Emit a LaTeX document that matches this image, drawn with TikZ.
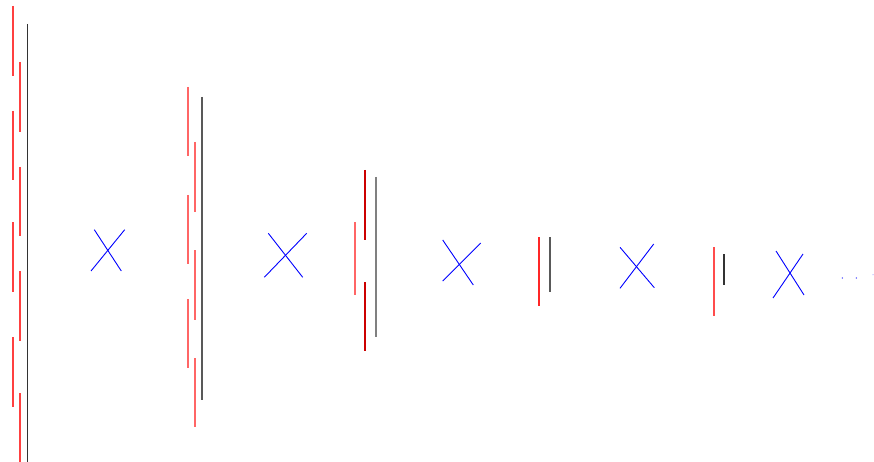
\documentclass[tikz,border=0pt]{standalone}
\begin{document}
\begin{tikzpicture}[x=1pt,y=-1pt,
  redseg/.style={line width=1.2pt,color=#1},
  redseg/.default={red!75!white},
  blkseg/.style={line width=1.1pt,color=#1},
  blkseg/.default={black!80},
  crossln/.style={line width=0.9pt,color=blue},
  dotmark/.style={fill=blue!80,inner sep=0pt,minimum size=1.4pt,circle}]
\useasboundingbox (0,0) rectangle (874,462);
% group 1
\foreach \a/\b in {6/76,111/180,222/292,337/407} \draw[redseg={red!75!white}] (13,\a) -- (13,\b);
\foreach \a/\b in {62/132,167/236,271/341,393/462} \draw[redseg={red!75!white}] (20,\a) -- (20,\b);
\draw[blkseg={black!80}] (27.5,24) -- (27.5,462);
% cross 1
\draw[crossln] (94.3,229.7) -- (121.3,271);
\draw[crossln] (124.7,229.7) -- (91,271);
% group 2
\foreach \a/\b in {87/156,195/264,299/368} \draw[redseg={red!60!white}] (188,\a) -- (188,\b);
\foreach \a/\b in {142/212,250/320,358/427} \draw[redseg={red!60!white}] (195,\a) -- (195,\b);
\draw[blkseg={black!65}] (202,97) -- (202,400);
% cross 2
\draw[crossln] (268.3,233.3) -- (302.7,277.3);
\draw[crossln] (306.7,233.3) -- (264.3,277.3);
% group 3
\draw[redseg={red!60!white}] (355,222) -- (355,295);
\draw[redseg={red!80!black}] (365,170) -- (365,240);
\draw[redseg={red!80!black}] (365,282) -- (365,351);
\draw[blkseg={black!50}] (376,177) -- (376,337);
% cross 3
\draw[crossln] (442.7,240) -- (473.3,285);
\draw[crossln] (480.7,243) -- (442.7,281);
% group 4
\draw[redseg={red!85!white}] (539,237) -- (539,306);
\draw[blkseg={black!65}] (550,237) -- (550,292);
% cross 4
\draw[crossln] (620,247.3) -- (654.3,287.7);
\draw[crossln] (653.7,244) -- (620,288.3);
% group 5
\draw[redseg={red!70!white}] (714,247) -- (714,316);
\draw[blkseg={black!80}] (724,254) -- (724,285);
% cross 5
\draw[crossln] (776,251) -- (804,295);
\draw[crossln] (803,254) -- (773,298);
% dots
\node[dotmark] (d1) at (842.3,278) {};
\node[dotmark] (d2) at (856.3,278) {};
\node[dotmark,fill=blue!30] (d3) at (873,274.7) {};
\end{tikzpicture}
\end{document}
